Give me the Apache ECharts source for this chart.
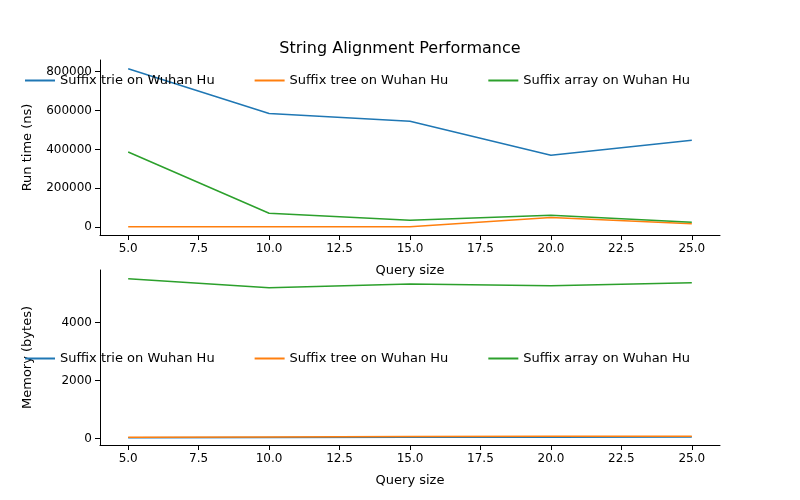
<!DOCTYPE html>
<html>
<head>
<meta charset="utf-8">
<script src="https://cdn.jsdelivr.net/npm/echarts@6/dist/echarts.min.js"></script>
</head>
<body style="margin:0">
<div id="main" style="width:800px;height:500px"></div>
<script>
var querySizes = [5, 10, 15, 20, 25];
var xTicks = [5, 7.5, 10, 12.5, 15, 17.5, 20, 22.5, 25];
var names = ['Suffix trie on Wuhan Hu', 'Suffix tree on Wuhan Hu', 'Suffix array on Wuhan Hu'];
var colors = ['#1f77b4', '#ff7f0e', '#2ca02c'];
// run time (ns)
var trieTime = [815000, 585000, 545000, 370000, 447000];
var treeTime = [3000, 3000, 3000, 50000, 18000];
var arrayTime = [387000, 72000, 36000, 62000, 26000];
// memory (bytes)
var trieMem = [30, 40, 45, 50, 55];
var treeMem = [45, 60, 70, 80, 85];
var arrayMem = [5520, 5210, 5340, 5280, 5380];
var timeTicks = [0, 200000, 400000, 600000, 800000];
var memTicks = [0, 2000, 4000];

function pairs(ys) {
    var out = [];
    for (var i = 0; i < querySizes.length; i++) out.push([querySizes[i], ys[i]]);
    return out;
}
var txt = {color: '#000', fontSize: 13, fontFamily: 'DejaVu Sans'};
function xAxis(idx) {
    return {
        type: 'value', gridIndex: idx, min: 4, max: 26,
        name: 'Query size', nameLocation: 'middle', nameGap: 29, nameTextStyle: txt,
        axisLine: {onZero: false, lineStyle: {color: '#000'}},
        axisTick: {show: true, customValues: xTicks, lineStyle: {color: '#000'}},
        axisLabel: {customValues: xTicks, color: '#000', fontSize: 12, fontFamily: 'DejaVu Sans',
            formatter: function (v) { return v.toFixed(1); }},
        splitLine: {show: false}
    };
}
function yAxis(idx, name, min, max, ticks) {
    return {
        type: 'value', gridIndex: idx, min: min, max: max,
        name: name, nameLocation: 'middle', nameGap: 66, nameTextStyle: txt,
        axisLine: {show: true, onZero: false, lineStyle: {color: '#000'}},
        axisTick: {show: true, customValues: ticks, lineStyle: {color: '#000'}},
        axisLabel: {customValues: ticks, color: '#000', fontSize: 12, fontFamily: 'DejaVu Sans',
            formatter: function (v) { return String(v); }},
        splitLine: {show: false}
    };
}
function line(name, data, x, c) {
    return {name: name, type: 'line', data: pairs(data), xAxisIndex: x, yAxisIndex: x,
        showSymbol: false, lineStyle: {width: 1.5, color: c}, itemStyle: {color: c}};
}
function legend(top) {
    return {
        top: top, left: 20, itemGap: 40, itemWidth: 30, itemHeight: 2,
        icon: 'rect', textStyle: {color: '#000', fontSize: 13, fontFamily: 'DejaVu Sans'},
        data: names
    };
}
var chart = echarts.init(document.getElementById('main'));
chart.setOption({
    animation: false,
    color: colors,
    title: {text: 'String Alignment Performance', left: 'center', top: 36,
        textStyle: {color: '#000', fontSize: 16, fontWeight: 'normal', fontFamily: 'DejaVu Sans'}},
    legend: [legend(69), legend(347)],
    grid: [
        {left: 100, right: 80, top: 60, height: 175},
        {left: 100, right: 80, top: 270, height: 175}
    ],
    xAxis: [xAxis(0), xAxis(1)],
    yAxis: [yAxis(0, 'Run time (ns)', -40000, 860000, timeTicks),
            yAxis(1, 'Memory (bytes)', -220, 5820, memTicks)],
    series: [
        line(names[0], trieTime, 0, colors[0]),
        line(names[1], treeTime, 0, colors[1]),
        line(names[2], arrayTime, 0, colors[2]),
        line(names[0], trieMem, 1, colors[0]),
        line(names[1], treeMem, 1, colors[1]),
        line(names[2], arrayMem, 1, colors[2])
    ]
});
</script>
</body>
</html>
